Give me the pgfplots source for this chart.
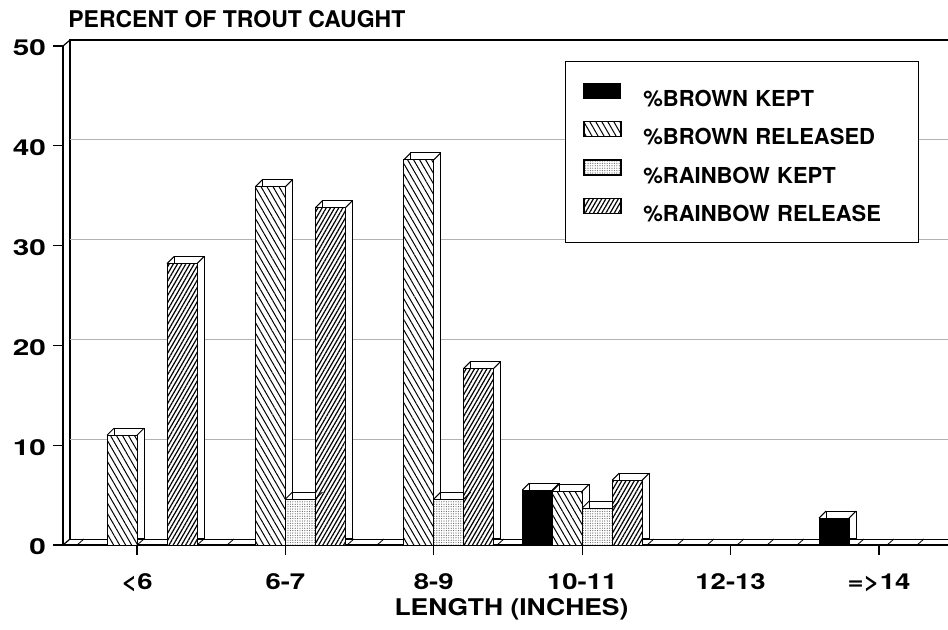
\documentclass[border=0pt]{standalone}
\usepackage{pgfplots}
\pgfplotsset{compat=1.18}
\usepackage{fontspec}
\setmainfont{TeX Gyre Heros}
\newfontfamily\ywide[FakeStretch=1.35]{TeX Gyre Heros}
\newfontfamily\xwide[FakeStretch=1.25]{TeX Gyre Heros}
\newfontfamily\lwide[FakeStretch=1.15]{TeX Gyre Heros}
\usetikzlibrary{patterns.meta}

\pgfdeclareplotmark{topdiag}{%
  \pgfpathmoveto{\pgfpoint{-7.5pt}{0pt}}\pgfpathlineto{\pgfpoint{-4pt}{3.5pt}}%
  \pgfpathmoveto{\pgfpoint{7.5pt}{0pt}}\pgfpathlineto{\pgfpoint{11pt}{3.5pt}}%
  \pgfusepathqstroke}

\pgfplotsset{
  bk/.style={draw=black, fill=black},
  br/.style={draw=black, preaction={fill=white}, pattern={Lines[angle=-60, distance=2.6pt, line width=0.5pt]}},
  rk/.style={draw=black, preaction={fill=white}, pattern={Dots[distance=1.2pt, radius=0.3pt]}, pattern color=black!60},
  rr/.style={draw=black, preaction={fill=white}, pattern={Lines[angle=60, distance=1.8pt, line width=0.6pt]}},
  shadow/.style={draw=black, fill=white, xshift=3.5pt, yshift=3.5pt, forget plot},
  diag/.style={only marks, mark=topdiag, mark options={black, line width=0.5pt, xshift=#1}, forget plot},
}

\begin{document}
\begin{tikzpicture}
\begin{axis}[
  name=ax,
  scale only axis,
  width=442.5pt, height=249.5pt,
  xmin=-0.4987, xmax=5.465,
  ymin=0, ymax=50,
  clip=false,
  axis lines=left,
  axis line style={-, line width=0.7pt},
  xtick={0,1,2,3,4,5},
  xticklabels={<6, 6-7, 8-9, 10-11, 12-13, =>14},
  ytick={0,10,20,30,40,50},
  tick align=outside,
  major tick length=5pt,
  tick style={black, line width=0.6pt},
  /pgf/number format/assume math mode=true,
  xticklabel style={font=\xwide\bfseries\fontsize{11}{13}\selectfont, anchor=base, yshift=-17pt},
  yticklabel style={font=\ywide\bfseries\fontsize{11}{13}\selectfont, yshift=-1pt},
  xlabel={LENGTH (INCHES)},
  xlabel style={font=\lwide\bfseries\fontsize{11.5}{13}\selectfont, at={(axis description cs:0.5,0)}, anchor=base, yshift=-35pt, xshift=3pt},
  legend style={at={(rel axis cs:0.567,0.97)}, anchor=north west, draw=black, line width=0.6pt,
    font=\bfseries\fontsize{11}{13}\selectfont, inner xsep=9pt, inner ysep=10.5pt,
    row sep=7.5pt, column sep=11pt,
    nodes={inner sep=0pt, text height=8pt, text depth=0pt, text width=128.5pt}},
  legend cell align=left,
  legend image code/.code={\draw[#1, line width=0.5pt] (0pt,0pt) rectangle (18.5pt,7.5pt);},
]
% back wall and floor
\draw[line width=0.6pt] (rel axis cs:0,0) -- ++(3.5pt,3pt);
\draw[line width=0.6pt] (rel axis cs:0,1) -- ++(3.5pt,3pt);
\draw[line width=0.6pt] ([xshift=3.5pt,yshift=3pt]rel axis cs:0,0) -- ([xshift=3.5pt,yshift=3pt]rel axis cs:0,1) -- ([yshift=3pt]rel axis cs:1,1);
\draw[line width=0.5pt] ([xshift=3.5pt,yshift=3pt]rel axis cs:0,0) -- ([yshift=3pt]rel axis cs:1,0);
\draw[gray!60, line width=0.5pt] ([xshift=3.5pt,yshift=3pt]axis cs:-0.4987,10) -- ([yshift=3pt]axis cs:5.465,10);
\draw[gray!60, line width=0.5pt] ([xshift=3.5pt,yshift=3pt]axis cs:-0.4987,20) -- ([yshift=3pt]axis cs:5.465,20);
\draw[gray!60, line width=0.5pt] ([xshift=3.5pt,yshift=3pt]axis cs:-0.4987,30) -- ([yshift=3pt]axis cs:5.465,30);
\draw[gray!60, line width=0.5pt] ([xshift=3.5pt,yshift=3pt]axis cs:-0.4987,40) -- ([yshift=3pt]axis cs:5.465,40);
\pgfplotsinvokeforeach{0,...,28}{
  \draw[line width=0.4pt] ([xshift=#1*15pt+7pt]rel axis cs:0,0) -- ++(3.5pt,3pt);
}

% %BROWN KEPT
\addplot[ybar, bar width=15pt, bar shift=-22.5pt, shadow] coordinates {(3,5.5) (5,2.7)};
\addplot[diag=-22.5pt] coordinates {(3,5.5) (5,2.7)};
\addplot[ybar, bar width=15pt, bar shift=-22.5pt, bk] coordinates {(3,5.5) (5,2.7)};
\addlegendentry{\%BROWN KEPT}
% %BROWN RELEASED
\addplot[ybar, bar width=15pt, bar shift=-7.5pt, shadow] coordinates {(0,11) (1,35.9) (2,38.6) (3,5.4)};
\addplot[diag=-7.5pt] coordinates {(0,11) (1,35.9) (2,38.6) (3,5.4)};
\addplot[ybar, bar width=15pt, bar shift=-7.5pt, br] coordinates {(0,11) (1,35.9) (2,38.6) (3,5.4)};
\addlegendentry{\%BROWN RELEASED}
% %RAINBOW KEPT
\addplot[ybar, bar width=15pt, bar shift=7.5pt, shadow] coordinates {(1,4.6) (2,4.6) (3,3.7)};
\addplot[diag=7.5pt] coordinates {(1,4.6) (2,4.6) (3,3.7)};
\addplot[ybar, bar width=15pt, bar shift=7.5pt, rk] coordinates {(1,4.6) (2,4.6) (3,3.7)};
\addlegendentry{\%RAINBOW KEPT}
% %RAINBOW RELEASE
\addplot[ybar, bar width=15pt, bar shift=22.5pt, shadow] coordinates {(0,28.2) (1,33.8) (2,17.7) (3,6.5)};
\addplot[diag=22.5pt] coordinates {(0,28.2) (1,33.8) (2,17.7) (3,6.5)};
\addplot[ybar, bar width=15pt, bar shift=22.5pt, rr] coordinates {(0,28.2) (1,33.8) (2,17.7) (3,6.5)};
\addlegendentry{\%RAINBOW RELEASE}

\node[anchor=base west, font=\bfseries\fontsize{11.5}{13}\selectfont, inner sep=0pt] at ([xshift=2.5pt, yshift=9.5pt]rel axis cs:0,1) {PERCENT OF TROUT CAUGHT};
\end{axis}
\pgfresetboundingbox
\path ([xshift=-31.5pt, yshift=-42pt]ax.south west) rectangle ([xshift=442.5pt, yshift=272.5pt]ax.south west);
\end{tikzpicture}
\end{document}
